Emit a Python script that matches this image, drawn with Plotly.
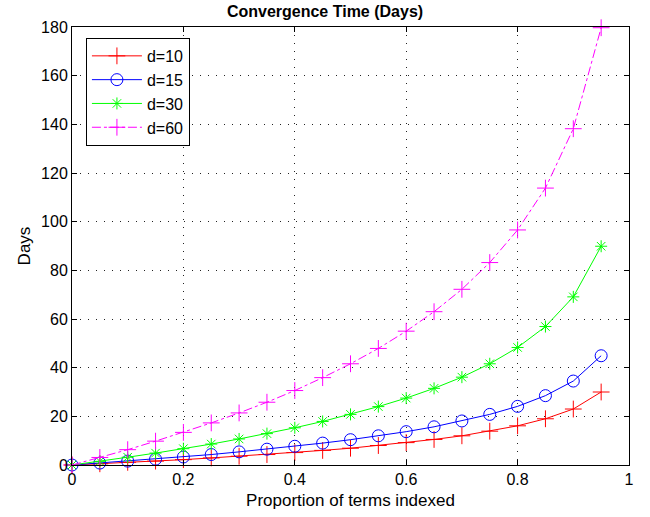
import plotly.graph_objects as go

x = [0, 0.05, 0.10, 0.15, 0.20, 0.25, 0.30, 0.35, 0.40, 0.45,
     0.50, 0.55, 0.60, 0.65, 0.70, 0.75, 0.80, 0.85, 0.90, 0.95]

d10 = [0, 0.5, 1.1, 1.6, 2.2, 2.9, 3.6, 4.3, 5.1, 6.0,
       6.9, 8.0, 9.2, 10.5, 12.0, 13.9, 16.1, 19.0, 23.0, 30.0]
d15 = [0, 0.8, 1.6, 2.4, 3.3, 4.3, 5.4, 6.5, 7.7, 9.0,
       10.4, 12.0, 13.7, 15.7, 18.1, 20.8, 24.1, 28.5, 34.5, 44.9]
d30 = [0, 1.5, 3.2, 4.9, 6.7, 8.6, 10.7, 12.9, 15.3, 17.9,
       20.8, 24.0, 27.5, 31.5, 36.1, 41.6, 48.3, 56.9, 69.1, 89.9]
d60 = [0, 3.1, 6.3, 9.8, 13.4, 17.3, 21.4, 25.8, 30.6, 35.9,
       41.6, 47.9, 55.0, 63.0, 72.2, 83.2, 96.6, 113.8, 138.2, 179.7]

names = ["d=10", "d=15", "d=30", "d=60"]
series = [d10, d15, d30, d60]
colors = ["#ff0000", "#0000ff", "#00ff00", "#ff00ff"]
symbols = ["cross-thin-open", "circle-open", "asterisk-open", "cross-thin-open"]
sizes = [12, 12, 10, 12]
dashes = ["solid", "solid", "solid", "dashdot"]

fig = go.Figure()
for n, s, c, sym, sz, dsh in zip(names, series, colors, symbols, sizes, dashes):
    fig.add_trace(go.Scatter(
        x=x, y=s, name=n, mode="lines+markers",
        line=dict(color=c, width=1, dash=dsh),
        marker=dict(symbol=sym, size=sz, color=c, line=dict(color=c, width=1)),
        cliponaxis=False,
    ))

font = "Liberation Sans, Arial, Helvetica, sans-serif"
axis_common = dict(
    showline=True, linecolor="black", linewidth=1, mirror="allticks",
    ticks="inside", ticklen=5, tickcolor="black",
    showgrid=True, gridcolor="#222222", griddash="1px,7px", gridwidth=1,
    zeroline=False, tickfont=dict(size=16, color="black", family=font),
)

fig.update_layout(
    width=650, height=517,
    margin=dict(l=72, r=21, t=27, b=52),
    paper_bgcolor="white", plot_bgcolor="white",
    font=dict(family=font, color="black", size=16),
    title=dict(text="<b>Convergence Time (Days)</b>", x=0.5, xanchor="center",
               y=1 - 11 / 517, yanchor="middle", font=dict(size=16)),
    xaxis=dict(range=[0, 1], tickvals=[0, 0.2, 0.4, 0.6, 0.8, 1],
               ticktext=["0", "0.2", "0.4", "0.6", "0.8", "1"],
               title=dict(text="Proportion of terms indexed", font=dict(size=17), standoff=6),
               **axis_common),
    yaxis=dict(range=[0, 180], tickvals=list(range(0, 181, 20)),
               title=dict(text="Days", font=dict(size=17), standoff=6),
               **axis_common),
    legend=dict(x=0.025, y=0.975, xanchor="left", yanchor="top",
                bordercolor="black", borderwidth=1, bgcolor="white",
                font=dict(size=16), tracegroupgap=0, itemwidth=50),
    showlegend=True,
)

fig.write_html("out.html")
